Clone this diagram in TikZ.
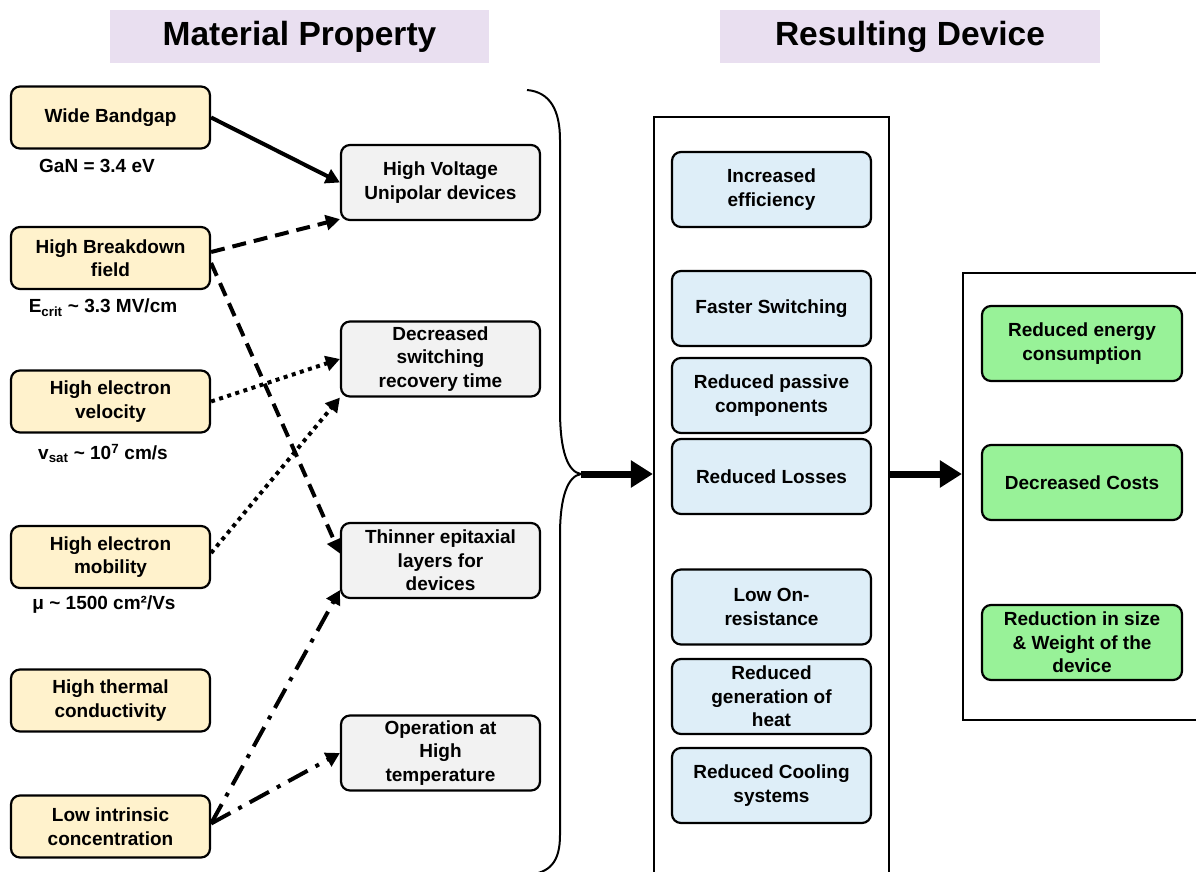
\documentclass[tikz,border=0pt]{standalone}
\usepackage{fontspec}
\setmainfont{Liberation Sans}
\usetikzlibrary{arrows.meta,calc}
\definecolor{yel}{HTML}{FFF2CC}
\definecolor{gry}{HTML}{F2F2F2}
\definecolor{blu}{HTML}{DEEEF8}
\definecolor{grn}{HTML}{98F298}
\definecolor{lav}{HTML}{E9DFF0}
\begin{document}
\begin{tikzpicture}[x=1pt,y=-1pt,
  box/.style={draw=black, line width=2.2pt, rounded corners=9pt, minimum width=199pt, inner sep=0pt, align=center, font=\fontsize{19}{23.5}\selectfont\bfseries},
  ybox/.style={box, fill=yel, minimum height=62pt},
  gbox/.style={box, fill=gry, minimum height=75pt},
  bbox/.style={box, fill=blu, minimum height=75pt},
  grbox/.style={box, fill=grn, minimum height=75pt, minimum width=200pt},
  lbl/.style={font=\fontsize{19}{23}\selectfont\bfseries, inner sep=0pt},
  title/.style={fill=lav, minimum height=53pt, inner sep=0pt, font=\fontsize{33.5}{40}\selectfont\bfseries},
  frame/.style={draw=black, line width=2.2pt, inner sep=0pt},
  conn/.style={line width=4pt, -{Triangle[length=14pt,width=15pt]}},
  dsh/.style={conn, dash pattern=on 14pt off 8pt},
  dtt/.style={conn, dash pattern=on 4pt off 4.5pt},
  dshdot/.style={conn, dash pattern=on 22pt off 9pt on 4pt off 9pt},
  bigarrow/.style={line width=7pt, -{Triangle[length=22pt,width=26pt]}},
  brace/.style={draw=black, line width=2pt}
]
\clip (0,0) rectangle (1196,871);
\fill[white] (0,0) rectangle (1196,871);

% titles
\node[title, minimum width=379pt] (t1) at (299.5,36.5) {Material Property};
\node[title, minimum width=380pt] (t2) at (910,36.5) {Resulting Device};

% frames
\node[frame, minimum width=235pt, minimum height=800pt] (mid) at (771.5,517) {};
\node[frame, minimum width=250pt, minimum height=447pt] (rgt) at (1088,496.5) {};

% left yellow boxes
\node[ybox] (wb)  at (110.5,117.5) {Wide Bandgap};
\node[ybox] (hb)  at (110.5,258)   {High Breakdown\\field};
\node[ybox] (hev) at (110.5,401.5) {High electron\\velocity};
\node[ybox] (hem) at (110.5,557)   {High electron\\mobility};
\node[ybox] (htc) at (110.5,700.5) {High thermal\\conductivity};
\node[ybox] (lic) at (110.5,826.5) {Low intrinsic\\concentration};

% labels
\node[lbl] (l1) at (97,166) {GaN = 3.4 eV};
\node[lbl] (l2) at (103,308) {E\textsubscript{crit} \char`\~{} 3.3 MV/cm};
\node[lbl] (l3) at (103,453) {v\textsubscript{sat} \char`\~{} 10\textsuperscript{7} cm/s};
\node[lbl] (l4) at (104,605) {μ \char`\~{} 1500 cm²/Vs};

% grey boxes
\node[gbox] (hv) at (440.5,182.5) {High Voltage\\Unipolar devices};
\node[gbox] (ds) at (440.5,359)   {Decreased\\switching\\recovery time};
\node[gbox] (te) at (440.5,560.5) {Thinner epitaxial\\layers for\\devices};
\node[gbox] (op) at (440.5,753)   {Operation at\\High\\temperature};

% blue boxes
\node[bbox] (ie) at (771.5,189.5) {Increased\\efficiency};
\node[bbox] (fs) at (771.5,308.5) {Faster Switching};
\node[bbox] (rp) at (771.5,395.5) {Reduced passive\\components};
\node[bbox] (rl) at (771.5,476.5) {Reduced Losses};
\node[bbox] (lo) at (771.5,607)   {Low On-\\resistance};
\node[bbox] (rg) at (771.5,696.5) {Reduced\\generation of\\heat};
\node[bbox] (rc) at (771.5,785.5) {Reduced Cooling\\systems};

% green boxes
\node[grbox] (re) at (1082,343.5) {Reduced energy\\consumption};
\node[grbox] (dc) at (1082,482.5) {Decreased Costs};
\node[grbox] (rs) at (1082,642.5) {Reduction in size\\\&~Weight of the\\device};

% brace
\coordinate (bt) at (581,474);
\draw[brace] (527,90) .. controls (550,92) and (560,110) .. (560,140) -- (560,410)
  .. controls (560,452) and (568,472) .. (bt)
  .. controls (568,476) and (560,496) .. (560,535) -- (560,835)
  .. controls (560,862) and (550,873) .. (527,875);

% connectors
\draw[conn] (wb.east) -- (hv.west);
\draw[dsh] ([yshift=6pt]hb.east) -- ([yshift=2pt]hv.south west);
\draw[dsh] ([yshift=-5pt]hb.east) -- ([yshift=7pt]te.west);
\draw[dtt] (hev.east) -- (ds.west);
\draw[dtt] ([yshift=4pt]hem.east) -- (ds.south west);
\draw[dshdot] ([yshift=3pt]lic.east) -- ([yshift=9pt]te.south west);
\draw[dshdot] ([yshift=3pt]lic.east) -- (op.west);

\draw[bigarrow] (bt) -- (bt -| mid.west);
\draw[bigarrow] (bt -| mid.east) -- (bt -| rgt.west);
\end{tikzpicture}
\end{document}
